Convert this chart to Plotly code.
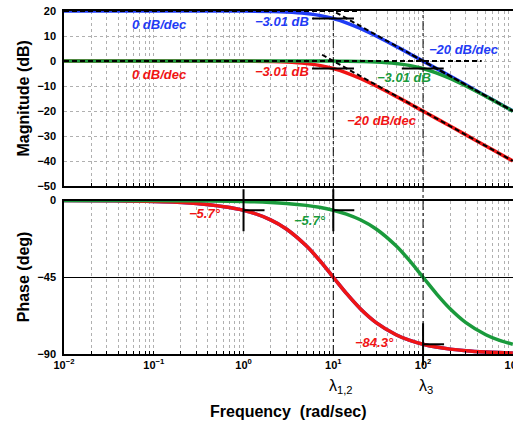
import math
import plotly.graph_objects as go

# ---------------- data ----------------
freq = [0.01, 0.03, 0.1, 0.3, 1, 2, 3, 5, 7, 10, 14, 20, 30, 50, 70, 100,
        140, 200, 300, 500, 700, 1000]

mag_blue = [20, 20, 20, 20, 19.96, 19.83, 19.63, 19.03, 18.26, 16.99, 15.29,
            13.01, 10.0, 5.85, 3.01, -0.04, -2.94, -6.03, -9.55, -13.98,
            -16.9, -20.0]
mag_red = [0, 0, 0, 0, -0.04, -0.17, -0.37, -0.97, -1.74, -3.01, -4.71,
           -6.99, -10.0, -14.15, -16.99, -20.04, -22.94, -26.03, -29.55,
           -33.98, -36.9, -40.0]
mag_green = [0, 0, 0, 0, 0, 0, 0, -0.01, -0.02, -0.04, -0.08, -0.17, -0.37,
             -0.97, -1.74, -3.01, -4.71, -6.99, -10.0, -14.15, -16.99, -20.04]

ph_red = [-0.06, -0.17, -0.57, -1.72, -5.71, -11.31, -16.70, -26.57, -34.99,
          -45.0, -54.46, -63.43, -71.57, -78.69, -81.87, -84.29, -85.91,
          -87.14, -88.09, -88.85, -89.18, -89.43]
ph_blue = ph_red
ph_green = [0.0, -0.02, -0.06, -0.17, -0.57, -1.15, -1.72, -2.86, -4.00,
            -5.71, -7.97, -11.31, -16.70, -26.57, -34.99, -45.0, -54.46,
            -63.43, -71.57, -78.69, -81.87, -84.29]

# asymptotes
asym_blue_flat_f = [0.01, 20]
asym_blue_flat_m = [20, 20]
asym_blue_slope_f = [7.5, 1000]
asym_blue_slope_m = [22.5, -20]
asym_red_slope_f = [7.5, 1000]
asym_red_slope_m = [2.5, -40]
asym_zero_flat_f = [0.01, 450]
asym_zero_flat_m = [0, 0]
asym_green_slope_f = [75, 1000]
asym_green_slope_m = [2.5, -20]

# -3.01 dB marker bars
bar_blue_f = [5.8, 17]
bar_blue_m = [17, 17]
bar_red_f = [5.8, 17]
bar_red_m = [-3, -3]
bar_green_f = [58, 170]
bar_green_m = [-3, -3]

# phase crosses (freq, phase)
cross_f = [1, 10, 100]
cross_p = [-5.7, -5.7, -84.3]

lambda_f = [10, 100]
lambda_lbl = ["λ<sub>1,2</sub>", "λ<sub>3</sub>"]

x_tickvals = []
x_ticktext = []
for k in range(-2, 4):
    for m in range(1, 10):
        v = m * 10 ** k
        if v > 1000:
            break
        x_tickvals.append(v)
        x_ticktext.append(f"10<sup>{k}</sup>" if m == 1 else "")
x_ticktext = [t.replace("-", "−") for t in x_ticktext]

mag_ticks = [20, 10, 0, -10, -20, -30, -40, -50]
ph_ticks = [0, -45, -90]

BLUE = "#1f3cf5"
RED = "#f01414"
GREEN = "#1a9a3c"
FONT = "Liberation Sans"

# ---------------- figure ----------------
W, H = 513, 425
ML, MR, MT, MB = 64, 0, 11, 71
ph_dom = [0, 0.4475]
mag_dom = [0.4898, 1]

fig = go.Figure()

def line(x, y, color, width, xa, ya, dash=None, shape="spline"):
    fig.add_trace(go.Scatter(x=x, y=y, mode="lines", xaxis=xa, yaxis=ya,
                             line=dict(color=color, width=width, dash=dash,
                                       shape=shape),
                             showlegend=False, hoverinfo="skip"))

# magnitude
line(freq, mag_blue, BLUE, 3.5, "x", "y")
line(freq, mag_red, RED, 3.5, "x", "y")
line(freq, mag_green, GREEN, 3.5, "x", "y")
DASH = "5px,3px"
for fx, my in [(asym_blue_flat_f, asym_blue_flat_m),
               (asym_blue_slope_f, asym_blue_slope_m),
               (asym_red_slope_f, asym_red_slope_m),
               (asym_zero_flat_f, asym_zero_flat_m),
               (asym_green_slope_f, asym_green_slope_m)]:
    line(fx, my, "black", 2, "x", "y", dash=DASH, shape="linear")
for fx, my in [(bar_blue_f, bar_blue_m), (bar_red_f, bar_red_m),
               (bar_green_f, bar_green_m)]:
    line(fx, my, "black", 2, "x", "y", shape="linear")

# phase
line(freq, ph_blue, BLUE, 3.5, "x2", "y2")
line(freq, ph_red, RED, 3.5, "x2", "y2")
line(freq, ph_green, GREEN, 3.5, "x2", "y2")

shapes = []
# lambda dash-dot verticals across both panels
for lf in lambda_f:
    shapes.append(dict(type="line", xref="x", yref="paper", x0=lf, x1=lf,
                       y0=0, y1=1.0, line=dict(color="black", width=1,
                                               dash="dashdot"), layer="above"))
# crosses
for cf, cp in zip(cross_f, cross_p):
    ya = (cp - (-90)) / 90.0
    shapes.append(dict(type="line", xref="x2", yref="y2 domain",
                       xsizemode="pixel", ysizemode="pixel",
                       xanchor=cf, yanchor=ya, x0=-21, x1=21, y0=0, y1=0,
                       line=dict(color="black", width=2), layer="above"))
    shapes.append(dict(type="line", xref="x2", yref="y2 domain",
                       xsizemode="pixel", ysizemode="pixel",
                       xanchor=cf, yanchor=ya, x0=0, x1=0, y0=-21, y1=21,
                       line=dict(color="black", width=2), layer="above"))

ann = []
def txt(x, y, s, color, xa="x", ya="y", size=13):
    ann.append(dict(x=x, y=y, xref=xa, yref=ya, text=s, showarrow=False,
                    font=dict(family=FONT, size=size, color=color,
                              weight="bold", style="italic"),
                    xanchor="center", yanchor="middle"))

txt(-0.933, 14.8, "0 dB/dec", BLUE)
txt(0.428, 15.8, "−3.01 dB", BLUE)
txt(2.456, 4.5, "−20 dB/dec", BLUE)
txt(-0.933, -5.2, "0 dB/dec", RED)
txt(0.428, -4.3, "−3.01 dB", RED)
txt(1.789, -6.5, "−3.01 dB", GREEN)
txt(1.544, -23.6, "−20 dB/dec", RED)
txt(-0.433, -7.8, "−5.7°", RED, "x2", "y2")
txt(0.744, -12.0, "−5.7°", GREEN, "x2", "y2")
txt(1.461, -83.4, "−84.3°", RED, "x2", "y2")

for lf, lt in zip(lambda_f, lambda_lbl):
    ann.append(dict(x=math.log10(lf), y=0, xref="x2", yref="paper",
                    text=lt, showarrow=False, xanchor="left", yanchor="middle",
                    xshift=-6, yshift=-32,
                    font=dict(family=FONT, size=16, color="black")))

# axis titles
ann.append(dict(x=0, y=(mag_dom[0] + mag_dom[1]) / 2, xref="paper",
                yref="paper", text="<b>Magnitude (dB)</b>", textangle=-90,
                showarrow=False, xanchor="center", yanchor="middle",
                xshift=23 - ML, font=dict(family=FONT, size=16, color="black")))
ann.append(dict(x=0, y=(ph_dom[0] + ph_dom[1]) / 2, xref="paper",
                yref="paper", text="<b>Phase (deg)</b>", textangle=-90,
                showarrow=False, xanchor="center", yanchor="middle",
                xshift=23 - ML, font=dict(family=FONT, size=16, color="black")))
ann.append(dict(x=0.5, y=0, xref="paper", yref="paper",
                text="<b>Frequency\u00a0\u00a0(rad/sec)</b>", showarrow=False,
                xanchor="center", yanchor="middle", yshift=-57,
                font=dict(family=FONT, size=16, color="black")))

TICKFONT = dict(family=FONT, size=11, color="black", weight="bold")

xcommon = dict(type="log", range=[-2, 3.002], tickvals=x_tickvals,
               ticktext=x_ticktext, showgrid=True, gridcolor="#b0b0b0",
               griddash="dot", gridwidth=1, ticks="inside", ticklen=3,
               tickcolor="black", showline=True, linecolor="black",
               linewidth=1.5, mirror=True, zeroline=False,
               tickfont=TICKFONT, ticklabeloverflow="allow",
               automargin=False)

fig.update_layout(
    width=W, height=H, margin=dict(l=ML, r=MR, t=MT, b=MB),
    paper_bgcolor="white", plot_bgcolor="white",
    xaxis=dict(**xcommon, anchor="y", domain=[0, 1], showticklabels=False),
    xaxis2=dict(**xcommon, anchor="y2", domain=[0, 1], matches="x",
                showticklabels=True),
    yaxis=dict(domain=mag_dom, range=[-50, 20], tickvals=mag_ticks,
               showgrid=True, gridcolor="#b0b0b0", griddash="dot",
               zeroline=False, showline=True, linecolor="black",
               linewidth=1.5, ticks="", anchor="x", automargin=False,
               tickfont=TICKFONT, ticklabelstandoff=4),
    yaxis2=dict(domain=ph_dom, range=[-90, 0], tickvals=ph_ticks,
                showgrid=True, gridcolor="black", gridwidth=1,
                zeroline=False, showline=True, linecolor="black",
                linewidth=1.5, ticks="", anchor="x2", automargin=False,
                tickfont=TICKFONT, ticklabelstandoff=4),
    shapes=shapes, annotations=ann,
    font=dict(family=FONT),
)

fig.write_html("out.html", config={"displayModeBar": False},
               post_script="document.body.style.margin='0';"
                           "document.body.style.overflow='hidden';")
